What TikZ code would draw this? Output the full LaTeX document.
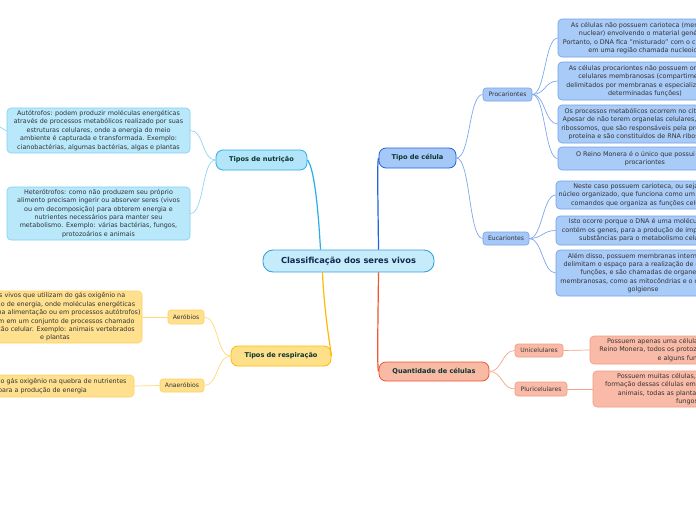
\documentclass[tikz,border=0pt]{standalone}
\usepackage{fontspec}
\setmainfont{DejaVu Sans}
\definecolor{mainfill}{HTML}{C6EBFB}
\definecolor{mainedge}{HTML}{3AA3DC}
\definecolor{maintext}{HTML}{0E2A4E}
\definecolor{nutfill}{HTML}{B2E4FA}
\definecolor{nutedge}{HTML}{2AAEE8}
\definecolor{nutleaf}{HTML}{B9E8FB}
\definecolor{nutleafedge}{HTML}{7FD0F2}
\definecolor{nutline}{HTML}{8FD6F3}
\definecolor{celfill}{HTML}{A6C8F8}
\definecolor{celedge}{HTML}{2263D8}
\definecolor{celleaf}{HTML}{A9CBF8}
\definecolor{celleafedge}{HTML}{6F9FE8}
\definecolor{celline}{HTML}{7FA8EC}
\definecolor{resfill}{HTML}{FFE08A}
\definecolor{resedge}{HTML}{FFB900}
\definecolor{resleaf}{HTML}{FFE08F}
\definecolor{resleafedge}{HTML}{FFD15E}
\definecolor{resline}{HTML}{FFD97A}
\definecolor{quafill}{HTML}{F8B9A5}
\definecolor{quaedge}{HTML}{EE5530}
\definecolor{qualeaf}{HTML}{F9BBA8}
\definecolor{qualeafedge}{HTML}{F39A80}
\definecolor{qualine}{HTML}{F6A58C}
\definecolor{labeltext}{HTML}{0B3530}
\definecolor{leaftext}{HTML}{333333}
\tikzset{
  x=1pt, y=-1pt,
  pill/.style={draw, rounded corners=7pt, line width=0.8pt, inner sep=0pt,
    font=\fontsize{6.6}{8}\selectfont\bfseries, text=labeltext},
  tag/.style={draw, rounded corners=3pt, line width=0.6pt, inner sep=0pt,
    font=\fontsize{6.1}{7}\selectfont, text=leaftext},
  leaf/.style={draw, rounded corners=4pt, line width=0.6pt, inner sep=0pt,
    align=center, font=\fontsize{6.4}{8.4}\selectfont, text=leaftext},
  link/.style={line width=0.7pt},
  trunk/.style={line width=1.2pt},
}
\begin{document}
\begin{tikzpicture}
\useasboundingbox (0,0) rectangle (696,520);
\clip (0,0) rectangle (696,520);
\fill[white] (0,0) rectangle (696,520);

% central node
\node[draw=mainedge, fill=mainfill, rounded corners=10pt, line width=0.9pt,
  minimum width=171pt, minimum height=22pt, inner sep=0pt, text=maintext,
  font=\fontsize{8.3}{9}\selectfont\bfseries] (main) at (348.5,261) {Classificação dos seres vivos};

% main branches
\node[pill, draw=nutedge, fill=nutfill, minimum width=91pt, minimum height=20pt] (nut) at (261.5,160) {Tipos de nutrição};
\node[pill, draw=celedge, fill=celfill, minimum width=77pt, minimum height=20pt] (cel) at (417.5,158) {Tipo de célula};
\node[pill, draw=resedge, fill=resfill, minimum width=100pt, minimum height=20pt] (res) at (281,356) {Tipos de respiração};
\node[pill, draw=quaedge, fill=quafill, minimum width=110pt, minimum height=19pt] (qua) at (434,371.5) {Quantidade de células};

% sub tags
\node[tag, draw=celedge!60, fill=celfill, minimum width=49pt, minimum height=13pt] (pro) at (507.5,94.5) {Procariontes};
\node[tag, draw=celedge!60, fill=celfill, minimum width=46pt, minimum height=13pt] (euc) at (506,238.5) {Eucariontes};
\node[tag, draw=resleafedge, fill=resleaf, minimum width=36pt, minimum height=14pt] (aer) at (186,317) {Aeróbios};
\node[tag, draw=resleafedge, fill=resleaf, minimum width=44pt, minimum height=13pt] (ana) at (182,385.5) {Anaeróbios};
\node[tag, draw=qualeafedge, fill=qualeaf, minimum width=48pt, minimum height=13pt] (uni) at (539,350.5) {Unicelulares};
\node[tag, draw=qualeafedge, fill=qualeaf, minimum width=52pt, minimum height=14pt] (plu) at (541,389) {Pluricelulares};

% nutrition leaves
\node[leaf, draw=nutleafedge, fill=nutleaf, minimum width=183pt, minimum height=45pt] (aut) at (98.5,130.5)
 {Autótrofos: podem produzir moléculas energéticas\\através de processos metabólicos realizado por suas\\estruturas celulares, onde a energia do meio\\ambiente é capturada e transformada. Exemplo:\\cianobactérias, algumas bactérias, algas e plantas};
\node[leaf, draw=nutleafedge, fill=nutleaf, minimum width=183pt, minimum height=53pt] (het) at (98.5,213.5)
 {Heterótrofos: como não produzem seu próprio\\alimento precisam ingerir ou absorver seres (vivos\\ou em decomposição) para obterem energia e\\nutrientes necessários para manter seu\\metabolismo. Exemplo: várias bactérias, fungos,\\protozoários e animais};

% respiration leaves
\node[leaf, draw=resleafedge, fill=resleaf, minimum width=174pt, minimum height=52pt] (aerl) at (55,317)
 {Seres vivos que utilizam do gás oxigênio na\\obtenção de energia, onde moléculas energéticas\\(obtidas na alimentação ou em processos autótrofos)\\quebram em um conjunto de processos chamado\\respiração celular. Exemplo: animais vertebrados\\e plantas};
\node[leaf, draw=resleafedge, fill=resleaf, minimum width=183pt, minimum height=22pt] (anal) at (42.5,386)
 {Não utilizam o gás oxigênio na quebra de nutrientes\\para a produção de energia};

% procariontes leaves
\node[leaf, draw=celleafedge, fill=celleaf, minimum width=174pt, minimum height=38pt] (p1) at (645,38)
 {As células não possuem carioteca (membrana\\nuclear) envolvendo o material genético.\\Portanto, o DNA fica "misturado" com o citoplasma\\em uma região chamada nucleoide};
\node[leaf, draw=celleafedge, fill=celleaf, minimum width=174pt, minimum height=38pt] (p2) at (645,81)
 {As células procariontes não possuem organelas\\celulares membranosas (compartimentos\\delimitados por membranas e especializados em\\determinadas funções)};
\node[leaf, draw=celleafedge, fill=celleaf, minimum width=174pt, minimum height=38pt] (p3) at (645,124)
 {Os processos metabólicos ocorrem no citoplasma.\\Apesar de não terem organelas celulares, possuem\\ribossomos, que são responsáveis pela produção de\\proteína e são constituídos de RNA ribossômico};
\node[leaf, draw=celleafedge, fill=celleaf, minimum width=174pt, minimum height=23pt] (p4) at (645,158.5)
 {O Reino Monera é o único que possui seres\\procariontes};

% eucariontes leaves
\node[leaf, draw=celleafedge, fill=celleaf, minimum width=174pt, minimum height=28pt] (e1) at (643,195)
 {Neste caso possuem carioteca, ou seja, um\\núcleo organizado, que funciona como um centro de\\comandos que organiza as funções celulares};
\node[leaf, draw=celleafedge, fill=celleaf, minimum width=174pt, minimum height=29pt] (e2) at (643,230.5)
 {Isto ocorre porque o DNA é uma molécula que\\contém os genes, para a produção de importantes\\substâncias para o metabolismo celular};
\node[leaf, draw=celleafedge, fill=celleaf, minimum width=174pt, minimum height=46pt] (e3) at (643,273)
 {Além disso, possuem membranas internas que\\delimitam o espaço para a realização de diversas\\funções, e são chamadas de organelas\\membranosas, como as mitocôndrias e o complexo\\golgiense};

% quantidade leaves
\node[leaf, draw=qualeafedge, fill=qualeaf, minimum width=186pt, minimum height=28pt] (q1) at (683,350)
 {Possuem apenas uma célula. Exemplos: todo o\\Reino Monera, todos os protozoários, algumas algas\\e alguns fungos};
\node[leaf, draw=qualeafedge, fill=qualeaf, minimum width=188pt, minimum height=36pt] (q2) at (687,389)
 {Possuem muitas células, podendo ocorrer a\\formação dessas células em tecidos. Exemplos: os\\animais, todas as plantas, algumas algas e\\fungos};

\coordinate (stub) at (0,127);

% trunks
\draw[trunk, draw=nutedge] ([xshift=-28pt]main.north) .. controls (318,205) and (314,168) .. (nut.east);
\draw[trunk, draw=celedge] ([xshift=30pt]main.north) .. controls (378,200) and (377,160) .. (cel.west);
\draw[trunk, draw=resedge] ([xshift=-26pt]main.south) .. controls (324,310) and (330,345) .. (res.east);
\draw[trunk, draw=quaedge] ([xshift=30pt]main.south) .. controls (378,320) and (377,370) .. (qua.west);

% nutrition links
\draw[link, draw=nutline] (nut.west) .. controls +(-14,0) and +(14,0) .. (aut.east);
\draw[link, draw=nutline] (nut.west) .. controls +(-14,0) and +(14,0) .. (het.east);
\draw[link, draw=nutline] (aut.west) .. controls +(-4,0) and +(3,0) .. (stub);

% respiration links
\draw[link, draw=resline] (res.west) .. controls +(-14,0) and +(14,0) .. (aer.east);
\draw[link, draw=resline] (res.west) .. controls +(-14,0) and +(14,0) .. (ana.east);
\draw[link, draw=resline] (aer.west) -- (aerl.east);
\draw[link, draw=resline] (ana.west) -- (anal.east);

% cell links
\draw[link, draw=celline] (cel.east) .. controls +(14,0) and +(-14,0) .. (pro.west);
\draw[link, draw=celline] (cel.east) .. controls +(14,0) and +(-14,0) .. (euc.west);
\foreach \t in {p1,p2,p3,p4}
  \draw[link, draw=celline] (pro.east) .. controls +(13,0) and +(-13,0) .. (\t.west);
\foreach \t in {e1,e2,e3}
  \draw[link, draw=celline] (euc.east) .. controls +(13,0) and +(-13,0) .. (\t.west);

% quantity links
\draw[link, draw=qualine] (qua.east) .. controls +(13,0) and +(-13,0) .. (uni.west);
\draw[link, draw=qualine] (qua.east) .. controls +(13,0) and +(-13,0) .. (plu.west);
\draw[link, draw=qualine] (uni.east) -- (q1.west);
\draw[link, draw=qualine] (plu.east) -- (q2.west);
\end{tikzpicture}
\end{document}
